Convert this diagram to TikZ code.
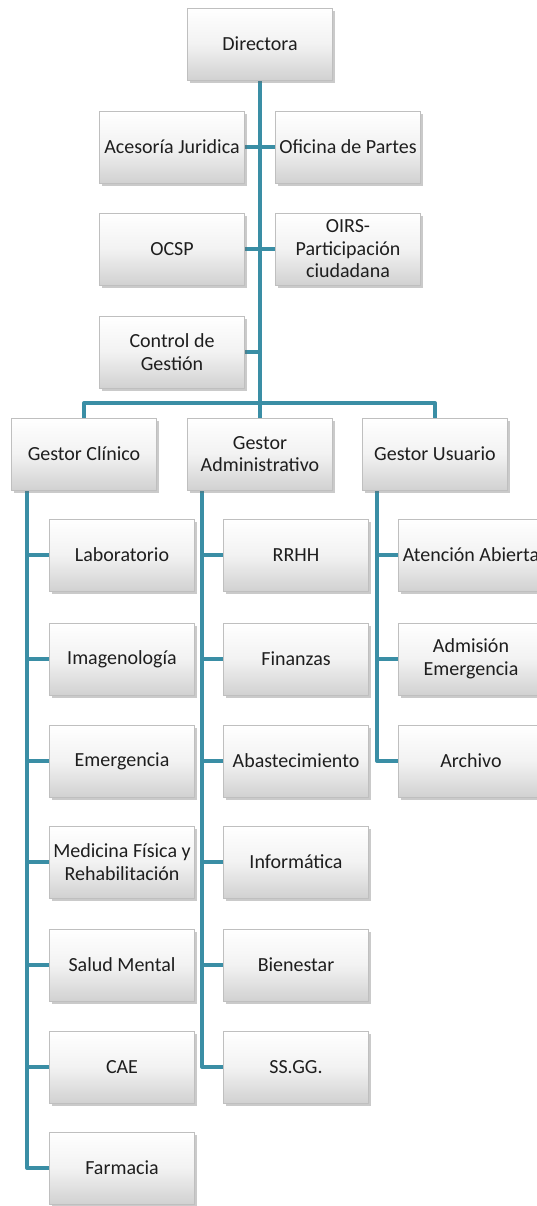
\documentclass[tikz,border=0pt]{standalone}
\usepackage{fontspec}
\setmainfont{Carlito}
\usetikzlibrary{shadows,backgrounds}
\definecolor{linkteal}{RGB}{58,142,165}
\definecolor{boxtext}{RGB}{30,30,30}
\begin{document}
\begin{tikzpicture}[x=1pt,y=-1pt,
  unit/.style={rectangle, minimum width=145pt, minimum height=72pt,
    inner sep=1pt, align=center, text=boxtext,
    font=\fontsize{20}{22.5}\selectfont,
    top color=white, bottom color=black!18, middle color=black!5,
    draw=black!25, line width=0.6pt,
    drop shadow={shadow xshift=2pt, shadow yshift=-3pt, opacity=0.35, fill=black!60}},
  link/.style={draw=linkteal, line width=4pt, line join=round}]
\useasboundingbox (0,0) rectangle (536,1206);

% boxes
\node[unit] (dir) at (260,44) {Directora};
\node[unit] (acj) at (172,147) {Acesoría Juridica};
\node[unit] (ofp) at (348,147) {Oficina de Partes};
\node[unit] (ocsp) at (172,249) {OCSP};
\node[unit] (oirs) at (348,249) {OIRS-\\Participación\\ciudadana};
\node[unit] (cdg) at (172,352) {Control de\\Gestión};

\node[unit] (gc) at (84,454) {Gestor Clínico};
\node[unit] (ga) at (260,454) {Gestor\\Administrativo};
\node[unit] (gu) at (435,454) {Gestor Usuario};

\node[unit] (c1) at (122,555) {Laboratorio};
\node[unit] (c2) at (122,659) {Imagenología};
\node[unit] (c3) at (122,761) {Emergencia};
\node[unit] (c4) at (122,862) {Medicina Física y\\Rehabilitación};
\node[unit] (c5) at (122,965) {Salud Mental};
\node[unit] (c6) at (122,1067) {CAE};
\node[unit] (c7) at (122,1168) {Farmacia};

\node[unit] (a1) at (296,555) {RRHH};
\node[unit] (a2) at (296,659) {Finanzas};
\node[unit] (a3) at (296,761) {Abastecimiento};
\node[unit] (a4) at (296,862) {Informática};
\node[unit] (a5) at (296,965) {Bienestar};
\node[unit] (a6) at (296,1067) {SS.GG.};

\node[unit] (u1) at (471,555) {Atención Abierta};
\node[unit] (u2) at (471,659) {Admisión\\Emergencia};
\node[unit] (u3) at (471,761) {Archivo};

% junction points and branch spines
\coordinate (hub) at (260,403);
\coordinate (jC) at (260,352);
\coordinate (cspine) at (27,490);
\coordinate (aspine) at (202,490);
\coordinate (uspine) at (377,490);

\begin{scope}[on background layer]
  % top trunk and staff units
  \draw[link] (dir.south) -- (hub);
  \draw[link] (acj.east) -- (ofp.west);
  \draw[link] (ocsp.east) -- (oirs.west);
  \draw[link] (cdg.east) -- (jC);
  % managers
  \draw[link] (gc.north) |- (hub) -| (gu.north);
  \draw[link] (hub) -- (ga.north);
  % clinical units
  \draw[link] (cspine) |- (c7.west);
  \foreach \n in {c1,c2,c3,c4,c5,c6}
    \draw[link] (cspine |- \n.west) -- (\n.west);
  % administrative units
  \draw[link] (aspine) |- (a6.west);
  \foreach \n in {a1,a2,a3,a4,a5}
    \draw[link] (aspine |- \n.west) -- (\n.west);
  % user units
  \draw[link] (uspine) |- (u3.west);
  \foreach \n in {u1,u2}
    \draw[link] (uspine |- \n.west) -- (\n.west);
\end{scope}
\end{tikzpicture}
\end{document}
